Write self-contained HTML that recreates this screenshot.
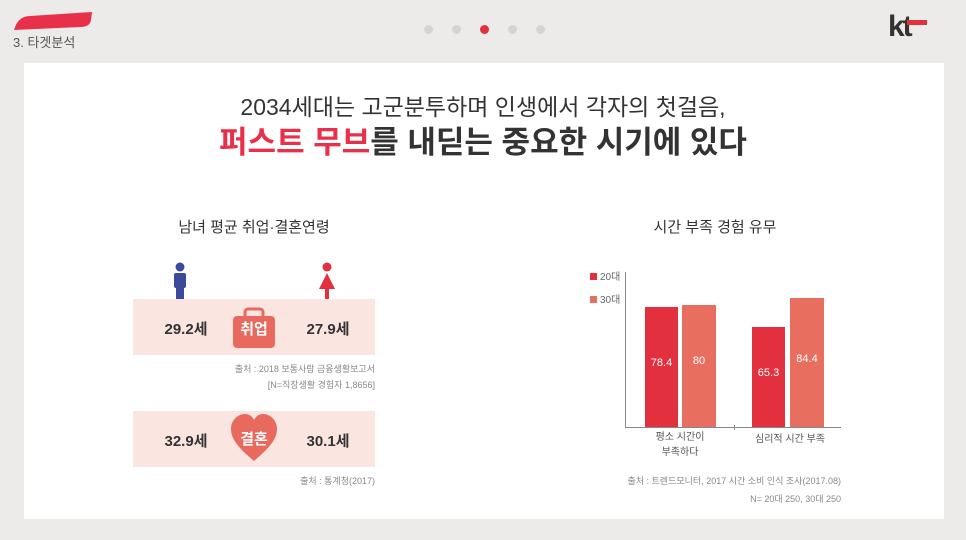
<!DOCTYPE html>
<html><head><meta charset="utf-8"><style>
body{margin:0;width:966px;height:540px;background:#edebe9;position:relative;overflow:hidden;font-family:"Liberation Sans","Noto Sans CJK KR",sans-serif;color:#333}
.a{position:absolute;white-space:nowrap}
.panel{position:absolute;left:24px;top:63px;width:920px;height:456px;background:#fff}
.dot{position:absolute;top:25px;width:9px;height:9px;border-radius:50%;background:#d9d3cf}
.band{position:absolute;left:133px;width:242px;height:56px;background:#fbe5e1}
.num{font-size:15px;font-weight:bold;color:#333;transform:translateX(-50%)}
.src{font-size:9px;color:#888;text-align:right}
.bar{position:absolute}
.v{position:absolute;font-size:11px;color:#fff;text-align:center}
</style></head><body>
<svg class="a" style="left:10px;top:10px" width="84" height="22"><path d="M4 20 Q8 6 20 6 L82 2 L81 10 Q80 17 70 17 Z" fill="#e8304a"/></svg>
<div class="a" style="left:13px;top:32px;font-size:13px;color:#555">3. 타겟분석</div>
<div class="dot" style="left:424px"></div><div class="dot" style="left:452px"></div>
<div class="dot" style="left:480px;background:#e3303f"></div><div class="dot" style="left:508px"></div><div class="dot" style="left:536px"></div>
<div class="a" style="left:888px;top:10px;font-size:30px;font-weight:bold;color:#333;letter-spacing:-2px">kt</div>
<div class="a" style="left:907px;top:20px;width:20px;height:5px;background:#e3303f"></div>
<div class="panel"></div>
<div class="a" style="left:0;width:966px;text-align:center;top:88px;font-size:23px;color:#333">2034세대는 고군분투하며 인생에서 각자의 첫걸음,</div>
<div class="a" style="left:0;width:966px;text-align:center;top:117px;font-size:31px;font-weight:bold;color:#333"><span style="color:#e8304a">퍼스트 무브</span>를 내딛는 중요한 시기에 있다</div>
<div class="a" style="left:133px;width:242px;text-align:center;top:216px;font-size:15px;color:#333">남녀 평균 취업·결혼연령</div>
<div class="a" style="left:600px;width:230px;text-align:center;top:216px;font-size:15px;color:#333">시간 부족 경험 유무</div>
<svg class="a" style="left:170px;top:262px" width="20" height="38"><circle cx="10" cy="5" r="4.5" fill="#3c4a9a"/><rect x="4" y="11" width="12" height="15" rx="2" fill="#3c4a9a"/><rect x="6" y="24" width="8" height="14" fill="#3c4a9a"/></svg>
<svg class="a" style="left:317px;top:262px" width="20" height="38"><circle cx="10" cy="5" r="4.5" fill="#e3303f"/><path d="M10 11 L18 27 L2 27 Z" fill="#e3303f"/><rect x="8" y="26" width="4" height="12" fill="#e3303f"/></svg>
<div class="band" style="top:299px"></div>
<div class="band" style="top:411px"></div>
<svg class="a" style="left:232px;top:307px" width="44" height="42"><rect x="13" y="2" width="18" height="9" rx="3" fill="none" stroke="#e86a5e" stroke-width="3"/><rect x="1" y="9" width="42" height="32" rx="4" fill="#e86a5e"/></svg>
<div class="a" style="left:232px;width:44px;text-align:center;top:318px;font-size:15px;font-weight:bold;color:#fff">취업</div>
<svg class="a" style="left:230px;top:413px" width="48" height="50"><path d="M24 48 C10 36 1 27 1 16 C1 7 8 1 15 1 C19 1 22 3 24 7 C26 3 29 1 33 1 C40 1 47 7 47 16 C47 27 38 36 24 48 Z" fill="#e86a5e"/></svg>
<div class="a" style="left:230px;width:48px;text-align:center;top:428px;font-size:15px;font-weight:bold;color:#fff">결혼</div>
<div class="a num" style="left:186px;top:318px">29.2세</div>
<div class="a num" style="left:328px;top:318px">27.9세</div>
<div class="a num" style="left:186px;top:430px">32.9세</div>
<div class="a num" style="left:328px;top:430px">30.1세</div>
<div class="a src" style="right:591px;top:362px">출처 : 2018 보통사람 금융생활보고서</div>
<div class="a src" style="right:591px;top:378px">[N=직장생활 경험자 1,8656]</div>
<div class="a src" style="right:591px;top:474px">출처 : 통계청(2017)</div>
<div class="a" style="left:590px;top:273px;width:7px;height:7px;background:#e3303f"></div>
<div class="a" style="left:600px;top:268px;font-size:10px;color:#666">20대</div>
<div class="a" style="left:590px;top:296px;width:7px;height:7px;background:#e86e5f"></div>
<div class="a" style="left:600px;top:291px;font-size:10px;color:#666">30대</div>
<div class="a" style="left:625px;top:272px;width:1px;height:156px;background:#888"></div>
<div class="a" style="left:625px;top:427px;width:216px;height:1px;background:#888"></div>
<div class="a" style="left:734px;top:425px;width:1px;height:5px;background:#888"></div>
<div class="bar" style="left:645px;top:307px;width:33px;height:120px;background:#e3303f"></div>
<div class="bar" style="left:682px;top:305px;width:34px;height:122px;background:#e86e5f"></div>
<div class="bar" style="left:752px;top:327px;width:33px;height:100px;background:#e3303f"></div>
<div class="bar" style="left:790px;top:298px;width:34px;height:129px;background:#e86e5f"></div>
<div class="v" style="left:645px;width:33px;top:357px">78.4</div>
<div class="v" style="left:682px;width:34px;top:355px">80</div>
<div class="v" style="left:752px;width:33px;top:367px">65.3</div>
<div class="v" style="left:790px;width:34px;top:353px">84.4</div>
<div class="a" style="left:630px;width:100px;text-align:center;top:430px;font-size:10px;color:#555;line-height:15px">평소 시간이<br>부족하다</div>
<div class="a" style="left:740px;width:100px;text-align:center;top:430px;font-size:10px;color:#555">심리적 시간 부족</div>
<div class="a src" style="right:125px;top:474px">출처 : 트렌드모니터, 2017 시간 소비 인식 조사(2017.08)</div>
<div class="a src" style="right:125px;top:492px">N= 20대 250, 30대 250</div>
</body></html>
